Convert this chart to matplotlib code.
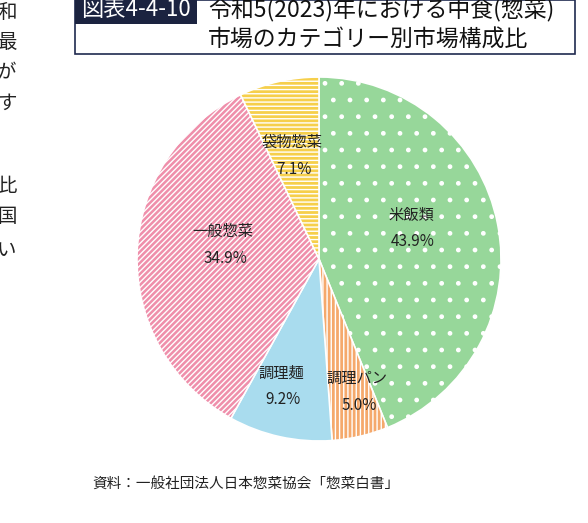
import matplotlib
matplotlib.use("Agg")
import matplotlib.pyplot as plt
from matplotlib.patches import Rectangle

plt.rcParams['font.family'] = ['Noto Sans CJK JP', 'DejaVu Sans']
plt.rcParams['hatch.linewidth'] = 1.0

categories = ['米飯類', '調理パン', '調理麺', '一般惣菜', '袋物惣菜']
values = [43.9, 5.0, 9.2, 34.9, 7.1]
colors = ['#97d79a', '#f5a96c', '#a9dcee', '#ef8fab', '#f6cf4b']
hatches = ['.', '||||', '', '//////', '----']
label_px = [(411, 215), (357, 378), (281, 373), (223, 231), (292, 142)]

W, H = 588, 523
fig = plt.figure(figsize=(W/100, H/100), dpi=100)
fig.patch.set_facecolor('white')

def fx(x): return x / W
def fy(y): return 1 - y / H

cx, cy, r = 319, 259, 182
ax = fig.add_axes([fx(cx - r), fy(cy + r), 2*r/W, 2*r/H])
wedges, _ = ax.pie(values, colors=colors, startangle=90, counterclock=False,
                   wedgeprops=dict(edgecolor='white', linewidth=1.2))
for w, h in zip(wedges, hatches):
    w.set_hatch(h)
ax.set_xlim(-1, 1)
ax.set_ylim(-1, 1)
ax.set_aspect('equal')
ax.axis('off')

for cat, v, (x, y) in zip(categories, values, label_px):
    fig.text(fx(x), fy(y), cat, ha='center', va='center', fontsize=11, color='#222222')
    fig.text(fx(x + 2), fy(y + 27), f'{v:.1f}%', ha='center', va='center', fontsize=11, color='#222222')

# Title box
fig.patches.append(Rectangle((fx(75), fy(54)), fx(500), 54/H, transform=fig.transFigure,
                             facecolor='white', edgecolor='#1f2a4f', linewidth=1.2))
fig.patches.append(Rectangle((fx(75), fy(24)), fx(122), 24/H, transform=fig.transFigure,
                             facecolor='#1b2340', edgecolor='none'))
fig.text(fx(136), fy(10), '図表4-4-10', ha='center', va='center', fontsize=16, color='white')
fig.text(fx(208), fy(10), '令和5(2023)年における中食(惣菜)', ha='left', va='center', fontsize=16.5, color='#111111')
fig.text(fx(208), fy(40), '市場のカテゴリー別市場構成比', ha='left', va='center', fontsize=16.5, color='#111111')

# Left margin text fragments
for ch, y in [('和', 13), ('最', 43), ('が', 73), ('す', 103), ('比', 187), ('国', 217), ('い', 250)]:
    fig.text(fx(-3), fy(y), ch, ha='left', va='center', fontsize=14, color='#222222')

fig.text(fx(92), fy(484), '資料：一般社団法人日本惣菜協会「惣菜白書」', ha='left', va='center', fontsize=10.5, color='#222222')

fig.savefig('out.png', dpi=100)
